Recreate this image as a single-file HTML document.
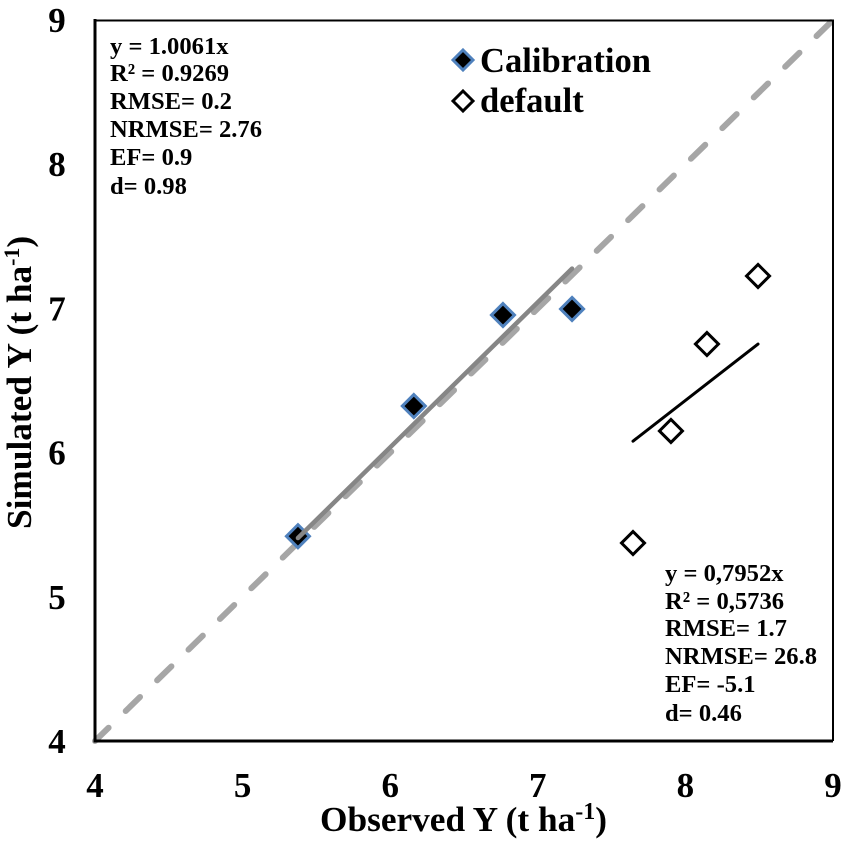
<!DOCTYPE html>
<html>
<head>
<meta charset="utf-8">
<title>Observed vs Simulated Y</title>
<style>
html,body{margin:0;padding:0;background:#fff;width:842px;height:842px;overflow:hidden}
svg{display:block;font-family:"Liberation Serif",serif;font-weight:bold;fill:#000}
</style>
</head>
<body>
<svg id="chart" width="842" height="842" viewBox="0 0 842 842" xmlns="http://www.w3.org/2000/svg">
  <rect x="0" y="0" width="842" height="842" fill="#fff"/>
  <g id="marks"></g>
  <path d="M95 20.5H833V741" fill="none" stroke="#000" stroke-width="2"/>
  <path d="M95 19V741H833" fill="none" stroke="#000" stroke-width="3"/>
  <g id="ticks"></g>

  <text x="320" y="831" font-size="35.3">Observed Y (t ha<tspan font-size="24" dy="-12">-1</tspan><tspan dy="12">)</tspan></text>
  <text transform="translate(31,529) rotate(-90)" font-size="35.3">Simulated Y (t ha<tspan font-size="22" dy="-12">-1</tspan><tspan dy="12">)</tspan></text>

  <g font-size="24.6">
    <text x="110" y="54">y = 1.0061x</text>
    <text x="110" y="81">R² = 0.9269</text>
    <text x="110" y="109">RMSE= 0.2</text>
    <text x="110" y="137">NRMSE= 2.76</text>
    <text x="110" y="165">EF= 0.9</text>
    <text x="110" y="194">d= 0.98</text>
  </g>
  <g font-size="24.6">
    <text x="665" y="581">y = 0,7952x</text>
    <text x="665" y="609">R² = 0,5736</text>
    <text x="665" y="636">RMSE= 1.7</text>
    <text x="665" y="664">NRMSE= 26.8</text>
    <text x="665" y="692">EF= -5.1</text>
    <text x="665" y="721">d= 0.46</text>
  </g>

  <g>
    <g>
      <path d="M463 50L473 60L463 70L453 60Z" fill="#000" stroke="#4f81bd" stroke-width="3"/>
      <text x="480" y="72" font-size="34.6">Calibration</text>
    </g>
    <g>
      <path d="M463 91L473 101L463 111L453 101Z" fill="#fff" stroke="#000" stroke-width="3"/>
      <text x="480" y="112" font-size="34.6">default</text>
    </g>
  </g>
</svg>
<script>
// Chart data
var xTicks = [4, 5, 6, 7, 8, 9];
var yTicks = [4, 5, 6, 7, 8, 9];
var calibrationObserved = [5.375, 6.16, 6.764, 7.232];
var calibrationSimulated = [5.42, 6.323, 6.954, 6.996];
var defaultObserved = [7.645, 7.902, 8.146, 8.492];
var defaultSimulated = [5.373, 6.15, 6.753, 7.225];
var calibrationSlope = [1.0061];
var defaultSlope = [0.7952];
var identityLine = [4, 9];

var NS = 'http://www.w3.org/2000/svg';
var marks = document.getElementById('marks');
var ticks = document.getElementById('ticks');

function sx(v) { return 95 + (v - 4) * (833 - 95) / 5; }
function sy(v) { return 741 - (v - 4) * (741 - 20) / 5; }

function make(tag, attrs, parent) {
  var el = document.createElementNS(NS, tag);
  for (var k in attrs) { el.setAttribute(k, attrs[k]); }
  parent.appendChild(el);
  return el;
}

// 1:1 reference line, dashed from the top-right corner
var identity = make('line', {
  x1: sx(identityLine[1]), y1: sy(identityLine[1]),
  x2: sx(identityLine[0]), y2: sy(identityLine[0]),
  stroke: '#a6a6a6', 'stroke-width': 6, 'stroke-linecap': 'round',
  'stroke-dasharray': '20 23.9', 'stroke-dashoffset': -3
}, marks);



function trend(xs, slope, color, width, name) {
  var lo = Math.min.apply(null, xs);
  var hi = Math.max.apply(null, xs);
  var line = make('line', {
    x1: sx(lo), y1: sy(lo * slope),
    x2: sx(hi), y2: sy(hi * slope),
    stroke: color, 'stroke-width': width, 'stroke-linecap': 'round'
  }, marks);
  
  
}

function diamond(cx, cy, fill, stroke, name) {
  var r = 11.5;
  var p = make('path', {
    d: 'M' + cx + ' ' + (cy - r) + 'L' + (cx + r) + ' ' + cy + 'L' + cx + ' ' + (cy + r) + 'L' + (cx - r) + ' ' + cy + 'Z',
    fill: fill, stroke: stroke, 'stroke-width': 3
  }, marks);
  
  
}

calibrationObserved.forEach(function (v, i) {
  diamond(sx(v), sy(calibrationSimulated[i]), '#000', '#4f81bd', 'calibration-point');
});
trend(calibrationObserved, calibrationSlope[0], '#868686', 4.5, 'calibration-trendline');

defaultObserved.forEach(function (v, i) {
  diamond(sx(v), sy(defaultSimulated[i]), '#fff', '#000', 'default-point');
});
trend(defaultObserved, defaultSlope[0], '#000', 3, 'default-trendline');

xTicks.forEach(function (v) {
  var t = make('text', { x: sx(v), y: 797, 'font-size': 35, 'text-anchor': 'middle' }, ticks);
  
  
  t.textContent = v;
});
yTicks.forEach(function (v) {
  var t = make('text', { x: 57, y: sy(v) + 12, 'font-size': 35, 'text-anchor': 'middle' }, ticks);
  
  
  t.textContent = v;
});
</script>
</body>
</html>
